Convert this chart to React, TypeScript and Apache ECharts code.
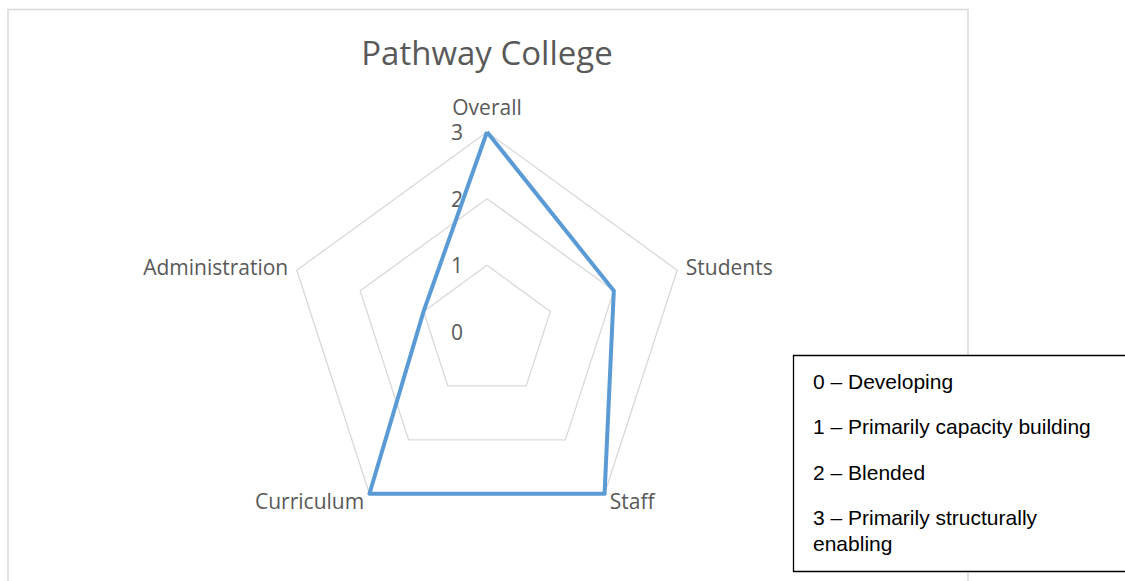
import React, { useEffect, useRef } from "react";
import * as echarts from "echarts";

// listed clockwise from the top, as in the reference
const indicators = ["Overall", "Students", "Staff", "Curriculum", "Administration"];
const values = [3, 2, 3, 3, 1];
const maxValue = 3;
const legendLines = [
  "0 – Developing",
  "1 – Primarily capacity building",
  "2 – Blended",
  "3 – Primarily structurally",
  "enabling",
];
const legendY = [381, 426, 472, 517, 543];

export default function App() {
  const ref = useRef<HTMLDivElement>(null);
  useEffect(() => {
    document.body.style.margin = "0";
    const chart = echarts.init(ref.current!, undefined, { renderer: "svg" });
    const font = "'Open Sans', 'Noto Sans', sans-serif";
    // ECharts lays indicators counter-clockwise: reverse all but the first
    const order = [0, ...indicators.slice(1).map((_, i) => indicators.length - 1 - i)];
    const ind = order.map((k) => indicators[k]);
    const vals = order.map((k) => values[k]);
    chart.setOption({
      animation: false,
      backgroundColor: "#ffffff",
      title: {
        text: "Pathway College",
        left: 487,
        textAlign: "center",
        top: 36,
        padding: 0,
        textStyle: { fontFamily: font, fontSize: 33, fontWeight: "normal", color: "#595959" },
      },
      radar: {
        center: [487, 332],
        radius: 200,
        startAngle: 90,
        shape: "polygon",
        splitNumber: 3,
        axisName: {
          color: "#595959",
          fontSize: 21,
          fontFamily: font,
          formatter: (name: string) => (name === "Overall" ? "{o|" + name + "}" : name),
          rich: {
            o: { color: "#595959", fontSize: 21, fontFamily: font, padding: [0, 0, 6, 0] },
          },
        },
        nameGap: 9,
        axisLine: { show: false },
        axisTick: { show: false },
        axisLabel: { show: false },
        splitArea: { show: false },
        splitLine: { lineStyle: { color: "#d9d9d9", width: 1.3 } },
        indicator: ind.map((name, i) => {
          const o: any = { name, min: 0, max: maxValue };
          if (i === 0) {
            o.axisLabel = {
              show: true,
              color: "#595959",
              fontSize: 21,
              fontFamily: font,
              margin: 24,
              padding: [4, 0, 0, 0],
            };
          }
          return o;
        }),
      },
      series: [
        {
          type: "radar",
          symbol: "none",
          lineStyle: { color: "#5b9bd5", width: 4 },
          data: [{ value: vals, name: "Pathway College" }],
        },
      ],
      graphic: [
        {
          type: "rect",
          z: -1,
          shape: { x: 8, y: 9.5, width: 960, height: 640 },
          style: { fill: "none", stroke: "#d9d9d9", lineWidth: 1.5 },
          silent: true,
        },
        {
          type: "rect",
          z: 10,
          shape: { x: 793.5, y: 355.5, width: 360, height: 216 },
          style: { fill: "#ffffff", stroke: "#000000", lineWidth: 1.3 },
        },
        ...legendLines.map((t, i) => ({
          type: "text",
          z: 11,
          x: 813,
          y: legendY[i],
          style: {
            text: t,
            fill: "#000000",
            font: "21px 'Liberation Sans', Arial, sans-serif",
            verticalAlign: "middle",
          },
        })),
      ],
    });
    return () => chart.dispose();
  }, []);
  return (
    <div
      ref={ref}
      style={{ position: "absolute", left: 0, top: 0, width: 1125, height: 581 }}
    />
  );
}
